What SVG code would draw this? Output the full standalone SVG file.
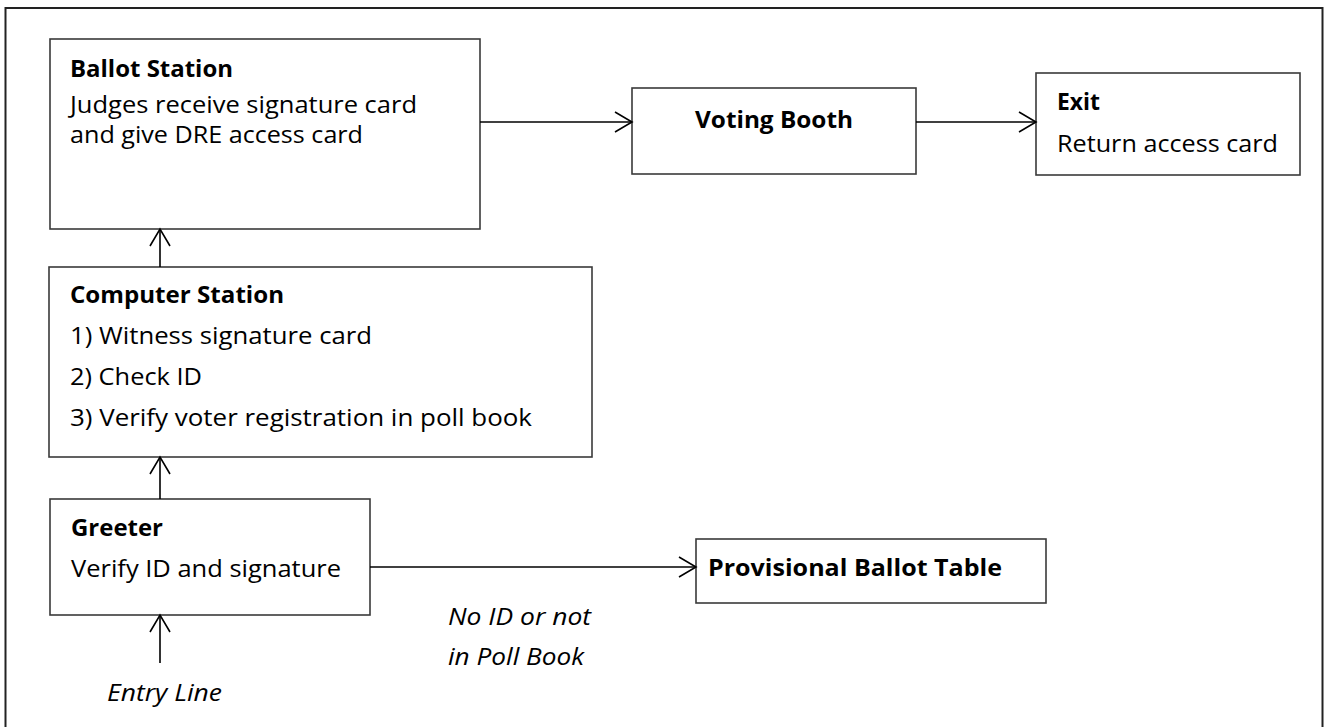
<svg xmlns="http://www.w3.org/2000/svg" width="1325" height="727" viewBox="0 0 1325 727">
<style>
.box{fill:#fff;stroke:#3a3a3a;stroke-width:1.6}
.t{font-family:"Open Sans","Noto Sans",sans-serif;font-size:23px;fill:#000}
.b{font-weight:bold}
.i{font-style:italic}
.c{stroke:#000;stroke-width:1.6;fill:none}
</style>
<defs>
<marker id="ah" markerUnits="userSpaceOnUse" markerWidth="24" markerHeight="24" viewBox="-20 -12 24 24" refX="0" refY="0" orient="auto">
<path d="M-17,-10 L0,0 L-17,10" fill="none" stroke="#000" stroke-width="1.6"/>
</marker>
</defs>
<rect x="5.5" y="8" width="1317" height="740" fill="none" stroke="#222" stroke-width="2"/>
<g id="ballot-station">
<rect class="box" x="50" y="39" width="430" height="190"/>
<text class="t b" x="70" y="77" textLength="163" lengthAdjust="spacingAndGlyphs">Ballot Station</text>
<text class="t" x="70" y="113" textLength="347" lengthAdjust="spacingAndGlyphs">Judges receive signature card</text>
<text class="t" x="70" y="143" textLength="293" lengthAdjust="spacingAndGlyphs">and give DRE access card</text>
</g>
<g id="voting-booth">
<rect class="box" x="632" y="88" width="284" height="86"/>
<text class="t b" x="695" y="128" textLength="158" lengthAdjust="spacingAndGlyphs">Voting Booth</text>
</g>
<g id="exit">
<rect class="box" x="1036" y="73" width="264" height="102"/>
<text class="t b" x="1057" y="110" textLength="43" lengthAdjust="spacingAndGlyphs">Exit</text>
<text class="t" x="1057" y="152" textLength="221" lengthAdjust="spacingAndGlyphs">Return access card</text>
</g>
<g id="computer-station">
<rect class="box" x="49" y="267" width="543" height="190"/>
<text class="t b" x="70" y="303" textLength="214" lengthAdjust="spacingAndGlyphs">Computer Station</text>
<text class="t" x="70" y="344" textLength="302" lengthAdjust="spacingAndGlyphs">1) Witness signature card</text>
<text class="t" x="70" y="385" textLength="132" lengthAdjust="spacingAndGlyphs">2) Check ID</text>
<text class="t" x="70" y="426" textLength="462" lengthAdjust="spacingAndGlyphs">3) Verify voter registration in poll book</text>
</g>
<g id="greeter">
<rect class="box" x="50" y="499" width="320" height="116" stroke-width="2"/>
<text class="t b" x="71" y="536" textLength="92" lengthAdjust="spacingAndGlyphs">Greeter</text>
<text class="t" x="71" y="577" textLength="270" lengthAdjust="spacingAndGlyphs">Verify ID and signature</text>
</g>
<g id="provisional">
<rect class="box" x="696" y="539" width="350" height="64"/>
<text class="t b" x="708" y="576" textLength="294" lengthAdjust="spacingAndGlyphs">Provisional Ballot Table</text>
</g>
<g id="connectors">
<line class="c" x1="480" y1="122" x2="632" y2="122" marker-end="url(#ah)"/>
<line class="c" x1="916" y1="122" x2="1036" y2="122" marker-end="url(#ah)"/>
<line class="c" x1="160" y1="267" x2="160" y2="229" marker-end="url(#ah)"/>
<line class="c" x1="160" y1="499" x2="160" y2="457" marker-end="url(#ah)"/>
<line class="c" x1="160" y1="663" x2="160" y2="615" marker-end="url(#ah)"/>
<line class="c" x1="370" y1="567" x2="696" y2="567" marker-end="url(#ah)"/>
</g>
<g id="labels">
<text class="t i" x="107" y="701" textLength="115" lengthAdjust="spacingAndGlyphs">Entry Line</text>
<text class="t i" x="448" y="625" textLength="143" lengthAdjust="spacingAndGlyphs">No ID or not</text>
<text class="t i" x="448" y="665" textLength="136" lengthAdjust="spacingAndGlyphs">in Poll Book</text>
</g>
</svg>
